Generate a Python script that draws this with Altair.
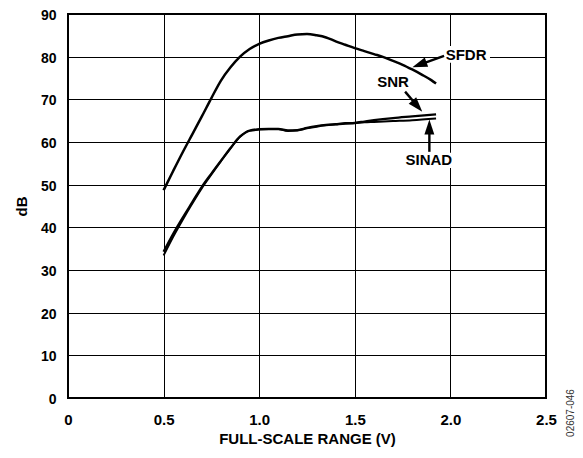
import altair as alt
import pandas as pd

FONT = "Liberation Sans"

# ---- data ----
sfdr_x = [0.5, 0.55, 0.6, 0.65, 0.7, 0.75, 0.8, 0.85, 0.9, 0.95, 1.0, 1.05, 1.1, 1.15,
          1.2, 1.25, 1.3, 1.35, 1.4, 1.45, 1.5, 1.55, 1.6, 1.65, 1.7, 1.75, 1.8, 1.85,
          1.9, 1.925]
sfdr_y = [48.7, 53.2, 57.6, 61.8, 66.0, 70.3, 74.4, 77.5, 80.0, 81.8, 83.0, 83.8, 84.4, 84.8,
          85.2, 85.3, 85.0, 84.5, 83.6, 82.8, 82.0, 81.3, 80.6, 79.9, 79.0, 78.1, 77.0, 75.8,
          74.5, 73.7]

low_x = [0.5, 0.55, 0.6, 0.65, 0.7, 0.75, 0.8, 0.85, 0.9, 0.95, 1.0, 1.05, 1.1, 1.15,
         1.2, 1.25, 1.3, 1.35, 1.4, 1.45, 1.5, 1.55, 1.6, 1.7, 1.8, 1.925]
snr_y = [34.3, 38.5, 42.3, 45.9, 49.5, 52.6, 55.6, 58.6, 61.3, 62.7, 63.0, 63.1, 63.1, 62.7,
         62.8, 63.3, 63.7, 64.0, 64.2, 64.4, 64.5, 64.8, 65.1, 65.6, 66.0, 66.5]
sinad_y = [33.4, 37.8, 41.8, 45.6, 49.2, 52.4, 55.5, 58.5, 61.2, 62.6, 62.9, 63.0, 63.0, 62.6,
           62.7, 63.2, 63.6, 63.9, 64.1, 64.3, 64.4, 64.6, 64.7, 64.9, 65.1, 65.5]

x_ticks = [0, 0.5, 1.0, 1.5, 2.0, 2.5]
y_ticks = [0, 10, 20, 30, 40, 50, 60, 70, 80, 90]

# annotations
label_text = ["SFDR", "SNR", "SINAD"]
label_x = [2.082, 1.70, 1.887]
label_y = [80.4, 74.1, 55.7]

box_x = [1.954, 1.755]
box_x2 = [2.207, 2.02]
box_y = [78.6, 53.9]
box_y2 = [82.5, 57.5]

arrow_x = [1.967, 1.763, 1.89]      # arrow start
arrow_y = [80.2, 71.8, 57.7]
shaft_x2 = [1.840, 1.826, 1.89]     # shaft end (at arrowhead base)
shaft_y2 = [78.14, 68.5, 63.4]
tip_x = [1.801, 1.853, 1.89]        # arrowhead tip
tip_y = [77.5, 67.1, 65.3]
tip_angle = [250, 139, 0]

# ---- tables ----
curves = pd.concat([
    pd.DataFrame({"x": sfdr_x, "y": sfdr_y, "series": "SFDR"}),
    pd.DataFrame({"x": low_x, "y": snr_y, "series": "SNR"}),
    pd.DataFrame({"x": low_x, "y": sinad_y, "series": "SINAD"}),
])
labels = pd.DataFrame({"text": label_text, "x": label_x, "y": label_y})
boxes = pd.DataFrame({"x": box_x, "x2": box_x2, "y": box_y, "y2": box_y2})
arrows = pd.DataFrame({"x": arrow_x, "y": arrow_y, "x2": shaft_x2, "y2": shaft_y2})
heads = pd.DataFrame({"x": tip_x, "y": tip_y, "angle": tip_angle})
stamp = pd.DataFrame({"t": ["02607-046"]})

xs = alt.Scale(domain=[0, 2.5], nice=False, zero=False)
ys = alt.Scale(domain=[0, 90], nice=False, zero=False)

x_axis = alt.Axis(values=x_ticks, title="FULL-SCALE RANGE (V)",
                  labelExpr="datum.value == 0 ? '0' : format(datum.value, '.1f')",
                  labelPadding=14, titlePadding=4)
y_axis = alt.Axis(values=y_ticks, title="dB", format="d", labelPadding=12, titlePadding=11,
                  labelFontSize=14, labelOffset=1.5)

base_lines = alt.Chart(curves).mark_line(interpolate="monotone", color="black").encode(
    x=alt.X("x:Q", scale=xs, axis=x_axis),
    y=alt.Y("y:Q", scale=ys, axis=y_axis),
    detail="series:N",
    strokeWidth=alt.StrokeWidth("series:N", scale=alt.Scale(domain=["SFDR", "SNR", "SINAD"],
                                                              range=[2.5, 2.0, 2.0]),
                                legend=None),
)

box_layer = alt.Chart(boxes).mark_rect(color="white", opacity=1).encode(
    x=alt.X("x:Q", scale=xs), x2="x2:Q",
    y=alt.Y("y:Q", scale=ys), y2="y2:Q",
)

shaft_layer = alt.Chart(arrows).mark_rule(color="black", strokeWidth=2.4).encode(
    x=alt.X("x:Q", scale=xs), x2="x2:Q",
    y=alt.Y("y:Q", scale=ys), y2="y2:Q",
)

head_layer = alt.Chart(heads).mark_point(
    shape="M0,0L-0.33,1L0.33,1Z", filled=True, color="black", opacity=1,
    size=900, strokeWidth=0,
).encode(
    x=alt.X("x:Q", scale=xs),
    y=alt.Y("y:Q", scale=ys),
    angle=alt.Angle("angle:Q", scale=None),
)

text_layer = alt.Chart(labels).mark_text(
    font=FONT, fontSize=15, fontWeight="bold", color="black",
    align="center", baseline="middle",
).encode(
    x=alt.X("x:Q", scale=xs),
    y=alt.Y("y:Q", scale=ys),
    text="text:N",
)

stamp_layer = alt.Chart(stamp).mark_text(
    font=FONT, fontSize=10, color="#333333", angle=270,
    align="center", baseline="middle",
).encode(
    x=alt.value(503), y=alt.value(399), text="t:N",
)

chart = alt.layer(
    box_layer, base_lines, shaft_layer, head_layer, text_layer, stamp_layer
).properties(
    width=478, height=384,
    padding={"left": 60, "top": 6, "right": 29, "bottom": 52},
    autosize=alt.AutoSizeParams(type="none"),
    background="white",
).configure_view(
    stroke="black", strokeWidth=2,
).configure_axis(
    labelFont=FONT, labelFontSize=15, labelFontWeight="bold", labelColor="black",
    titleFont=FONT, titleFontSize=15, titleFontWeight="bold", titleColor="black",
    grid=True, gridColor="black", gridWidth=1, gridOpacity=1,
    domain=False, ticks=False, tickSize=0, labelFlush=False, labelOverlap=False,
)

chart.save("out.html", embed_options={"renderer": "svg", "actions": False})
